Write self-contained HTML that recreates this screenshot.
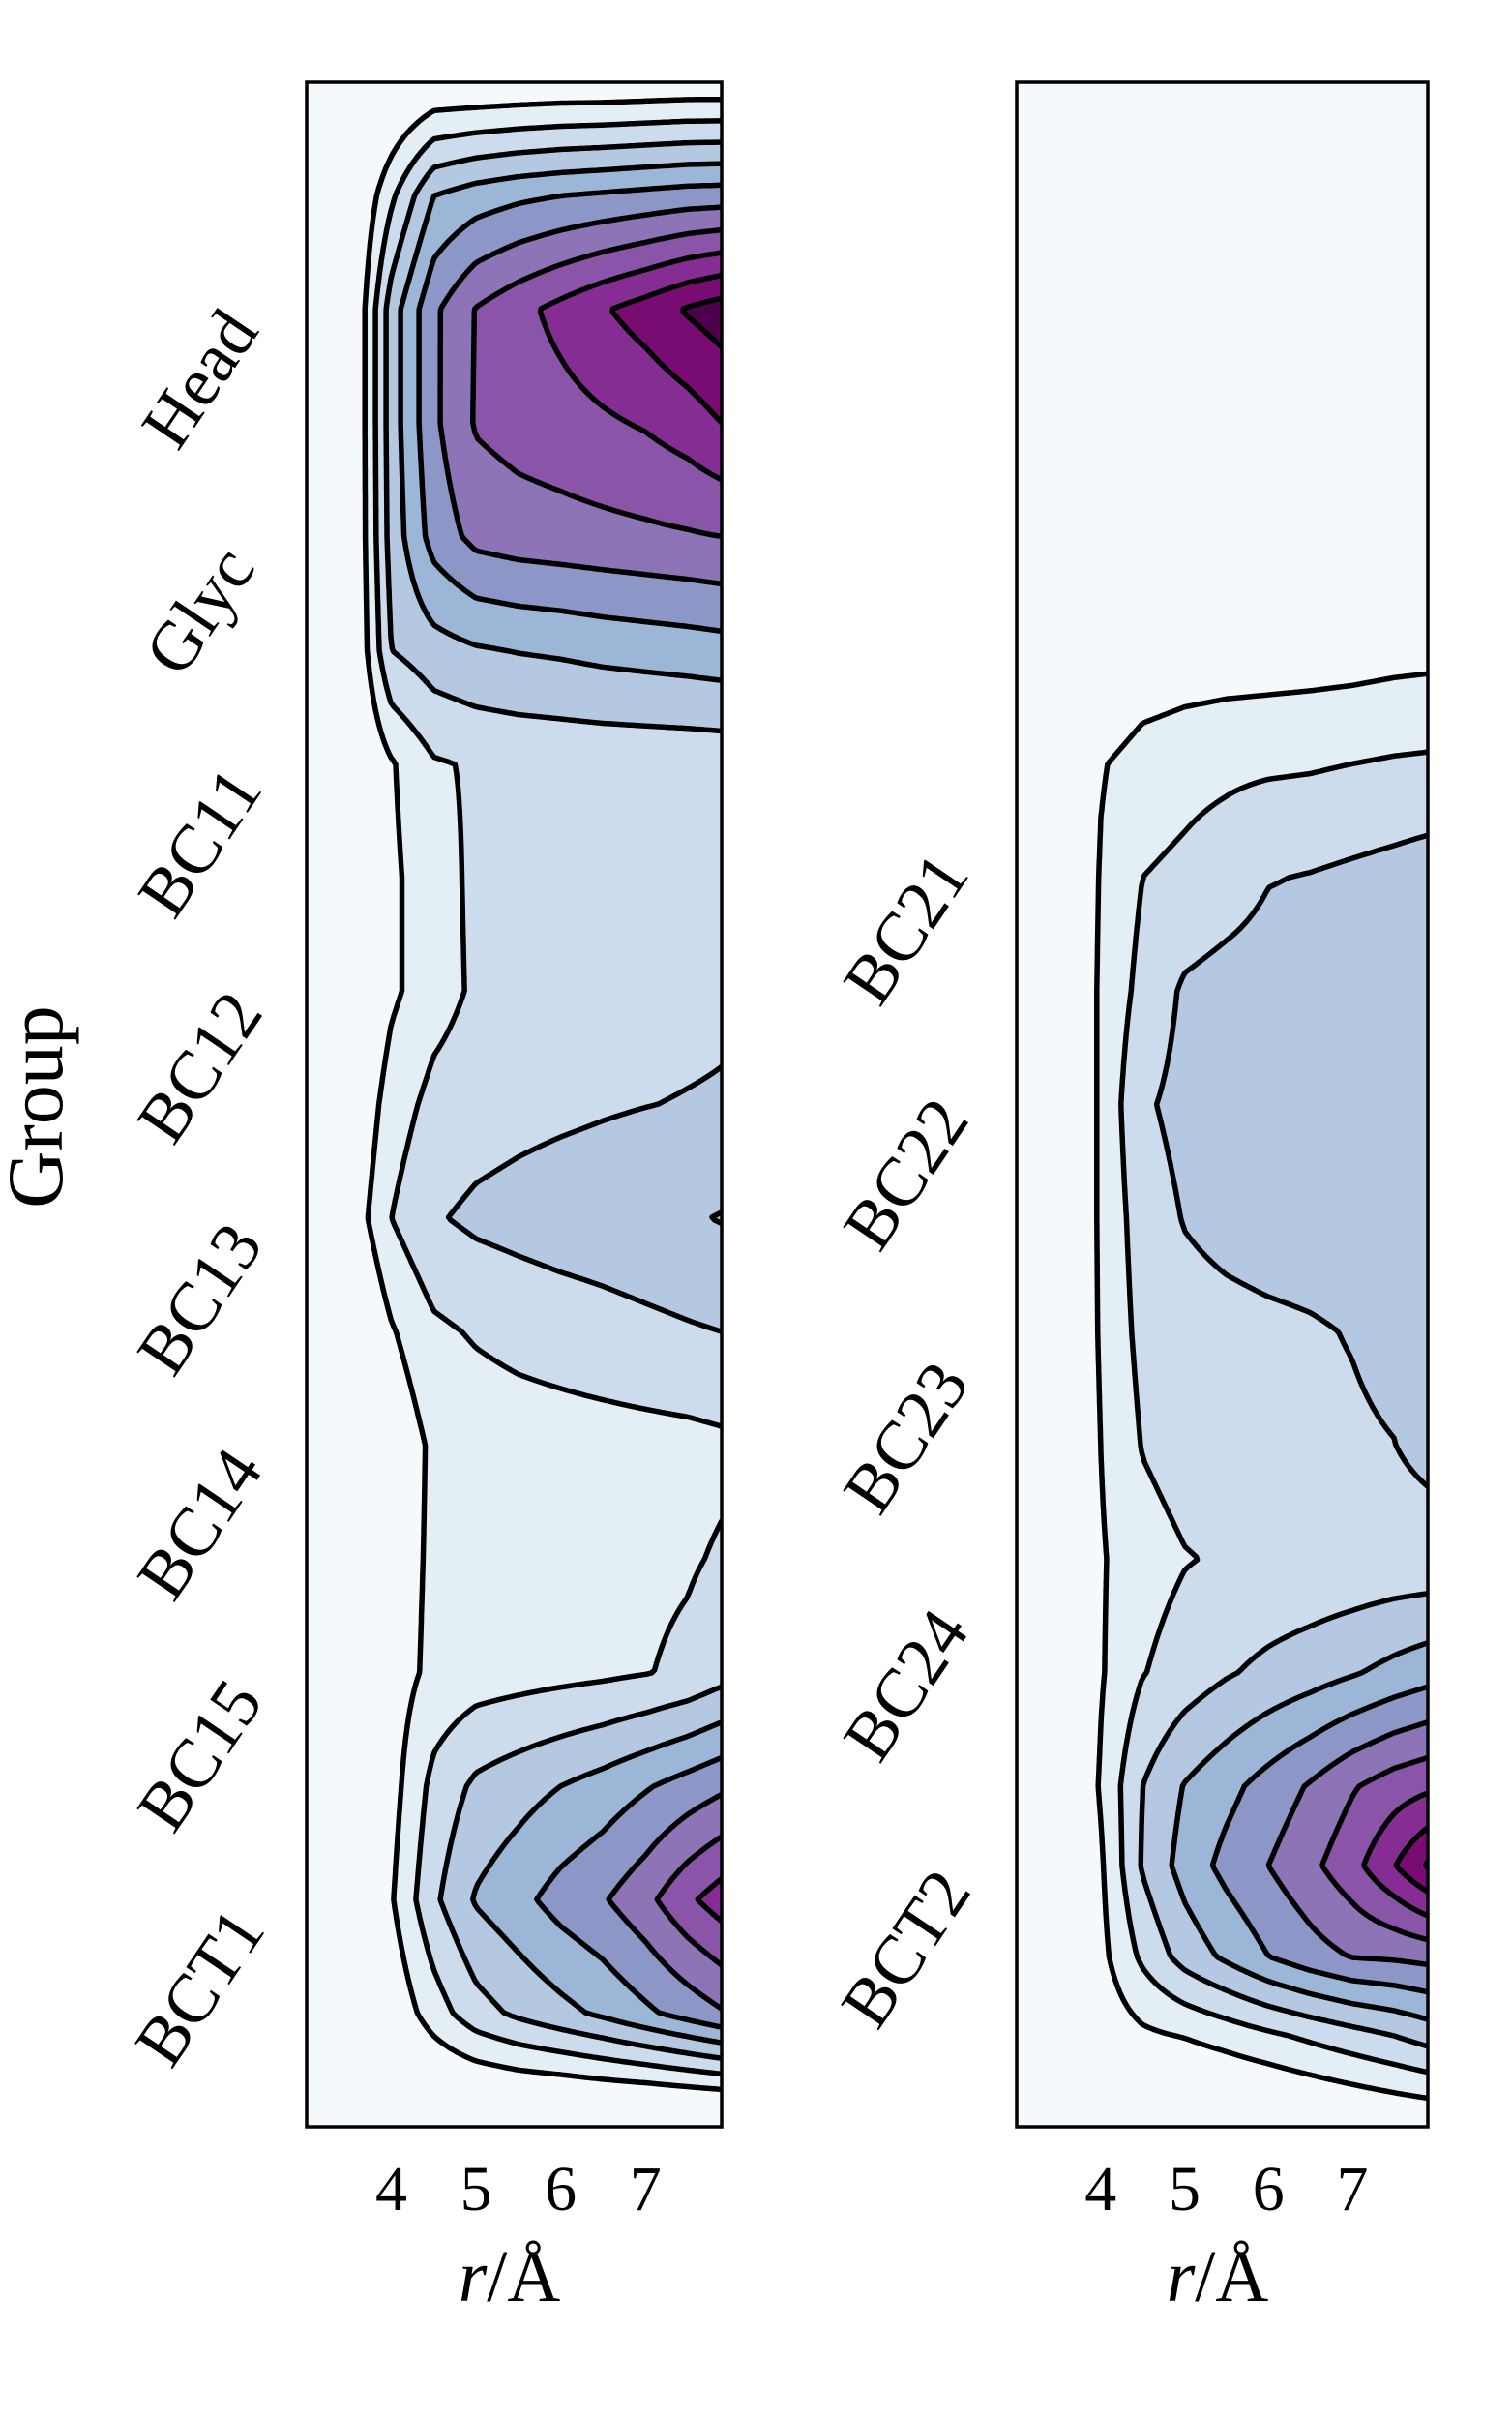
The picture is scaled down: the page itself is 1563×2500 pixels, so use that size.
<!DOCTYPE html>
<html><head><meta charset="utf-8">
<style>
html,body{margin:0;padding:0;background:#fff;}
#wrap{position:relative;width:1563px;height:2500px;overflow:hidden;background:#fff;}
canvas{position:absolute;}
svg{position:absolute;left:0;top:0;}
text{font-family:"Liberation Serif",serif;fill:#000;}
</style></head>
<body>
<div id="wrap">
<canvas id="cl"></canvas>
<canvas id="cr"></canvas>
<svg id="ov" width="1563" height="2500"></svg>
</div>
<script>
// ---- data ----
const rVals = [3.0,3.5,4.0,4.5,5.0,5.5,6.0,6.5,7.0,7.5,7.9];
const levels = [1,2,3,4,5,6,7,8,9,10];
const bandColors = ["#f5f9fb","#e3eef5","#ccdcec","#b4c9e1","#9bb6d7","#8c97c7","#8c74b7","#8a55a8","#852d93","#780c72","#4d004b"];
const xTicks = [4,5,6,7];
const leftLabels = ["Head","Glyc","BC11","BC12","BC13","BC14","BC15","BCT1"];
const leftLabelPos = [1.31,2.33,3.35,4.34,5.36,6.35,7.37,8.39];
const rightLabels = ["BC21","BC22","BC23","BC24","BCT2"];
const rightLabelPos = [3.73,4.81,5.97,7.06,8.22];
const leftRows = [0,0.5,1,1.5,2,2.5,3,3.5,4,4.5,5,5.5,6,6.5,7,7.5,8,8.5,9];
const leftZ = [
[-1,-1,-0.5,0,0,0.05,0.1,0.1,0.15,0.2,0.2],
[-1,-0.5,1.8,4.0,4.5,4.8,5.0,5.15,5.3,5.45,5.5],
[-1,-0.5,3.5,5.8,7.05,7.7,8.3,8.9,9.45,10.1,10.5],
[-1,-0.5,3.5,5.8,7.1,7.4,7.6,7.85,8.1,8.5,9.0],
[-1,-0.5,3.4,5.4,6.3,6.5,6.6,6.7,6.8,6.9,7.0],
[-1,-0.5,3.0,3.6,3.9,4.05,4.15,4.3,4.4,4.5,4.6],
[-1,-0.5,0.9,1.9,2.1,2.2,2.25,2.28,2.3,2.32,2.35],
[-1,-0.6,0.8,1.6,2.2,2.25,2.3,2.35,2.4,2.45,2.5],
[-1,-0.6,0.8,1.6,2.15,2.3,2.4,2.5,2.6,2.7,2.8],
[-1,-0.2,1.5,2.3,2.55,2.7,2.8,2.9,2.98,3.05,3.1],
[-1,0.2,2.0,2.9,3.2,3.35,3.5,3.6,3.75,3.9,4.05],
[-1,-0.6,0.9,1.8,2.1,2.3,2.45,2.6,2.75,2.9,3.0],
[-1,-0.6,0.2,1.2,1.4,1.5,1.55,1.6,1.65,1.7,1.8],
[-1,-0.6,0.4,1.2,1.4,1.5,1.6,1.7,1.8,1.9,2.1],
[-1,-0.6,0.5,1.25,1.5,1.6,1.7,1.8,1.95,2.2,2.6],
[-1,-0.6,0.6,2.3,3.2,3.6,4.0,4.4,4.9,5.4,5.8],
[-1,-0.6,0.9,2.8,4.1,4.7,5.4,5.9,6.7,7.8,8.5],
[-1,-0.8,0.2,1.5,2.6,3.2,3.7,4.2,4.8,5.4,5.9],
[-1,-1,-1,-1,-1.2,-1.2,-1.3,-1.3,-1.4,-1.4,-1.4]
];
const rightRows = [0,0.5,1,1.5,2,2.5,3,3.5,4,4.5,5,5.5,6,6.5,7,7.5,7.85,8.25,8.6,9];
const rightZ = [
[-1,-1,-1,-0.8,-0.6,-0.5,-0.4,-0.3,-0.3,-0.2,-0.2],
[-1,-1,-1,-0.8,-0.6,-0.5,-0.4,-0.3,-0.3,-0.2,-0.2],
[-1,-1,-1,-0.8,-0.6,-0.5,-0.4,-0.3,-0.3,-0.2,-0.2],
[-1,-1,-1,-0.8,-0.6,-0.5,-0.4,-0.3,-0.3,-0.2,-0.2],
[-1,-1,-1,-0.8,-0.6,-0.5,-0.4,-0.3,-0.3,-0.2,-0.2],
[-1,-1,-0.5,0.1,0.3,0.4,0.45,0.5,0.55,0.65,0.7],
[-1,-1,0.9,1.5,1.7,1.8,1.85,1.9,2.0,2.1,2.15],
[-1,-1,1.1,2.0,2.2,2.5,2.95,3.05,3.2,3.35,3.5],
[-1,-1,1.2,2.3,3.15,3.4,3.5,3.55,3.6,3.6,3.6],
[-1,-1,1.2,2.85,3.3,3.45,3.5,3.55,3.6,3.6,3.6],
[-1,-1,1.2,2.5,3.05,3.3,3.45,3.5,3.55,3.6,3.6],
[-1,-1,1.15,2.3,2.6,2.7,2.8,2.9,3.05,3.3,3.5],
[-1,-1,1.0,2.05,2.4,2.55,2.65,2.75,2.85,2.98,3.4],
[-1,-1,0.9,1.6,1.95,2.1,2.15,2.2,2.25,2.3,2.3],
[-1,-1,0.9,1.95,2.45,2.9,3.25,3.55,3.9,4.3,4.6],
[-1,-0.6,1.1,3.0,4.05,4.7,5.4,6.1,6.9,7.5,7.8],
[-1,-0.6,0.85,3.1,4.4,5.3,6.0,6.75,7.65,8.95,10.1],
[-1,-0.6,0.7,2.2,3.4,4.2,5.0,5.6,6.05,6.15,6.3],
[-1,-0.6,0.3,0.8,1.05,1.4,1.8,2.2,2.6,3.0,3.4],
[-1,-1,-1,-1,-1,-0.9,-0.8,-0.6,-0.4,-0.2,-0.1]
];

// ---- layout ----
const Y0 = 85, Y1 = 2198, UMAX = 9, RMIN = 3.0, RMAX = 7.9;
const panels = [
  {id:'cl', x0:317, x1:746, rows:leftRows, Z:leftZ, name:'left'},
  {id:'cr', x0:1051, x1:1476, rows:rightRows, Z:rightZ, name:'right'}
];
function xScale(p, r){ return p.x0 + (r - RMIN) / (RMAX - RMIN) * (p.x1 - p.x0); }
function yScale(u){ return Y0 + u / UMAX * (Y1 - Y0); }
function locate(arr, v){
  let i = 0;
  while (i < arr.length - 2 && v > arr[i+1]) i++;
  let t = (v - arr[i]) / (arr[i+1] - arr[i]);
  t = Math.max(0, Math.min(1, t));
  return [i, t];
}
function valueAt(p, r, u){
  const [i, tx] = locate(rVals, r);
  const [j, ty] = locate(p.rows, u);
  const Z = p.Z;
  const a = Z[j][i], b = Z[j][i+1], c = Z[j+1][i], d = Z[j+1][i+1];
  return (a*(1-tx) + b*tx)*(1-ty) + (c*(1-tx) + d*tx)*ty;
}
function band(v){
  let k = 0;
  for (const L of levels) if (v >= L) k++;
  return k;
}
function hex(c){ return [parseInt(c.slice(1,3),16),parseInt(c.slice(3,5),16),parseInt(c.slice(5,7),16)]; }
const rgb = bandColors.map(hex);

const NS = 'http://www.w3.org/2000/svg';
const svg = document.getElementById('ov');
function mk(tag, attrs){
  const e = document.createElementNS(NS, tag);
  for (const k in attrs) e.setAttribute(k, attrs[k]);
  return e;
}

panels.forEach((p, pi) => {
  const W = p.x1 - p.x0, H = Y1 - Y0;
  const cv = document.getElementById(p.id);
  cv.width = W; cv.height = H;
  cv.style.left = p.x0 + 'px'; cv.style.top = Y0 + 'px';
  const ctx = cv.getContext('2d');
  const img = ctx.createImageData(W, H);
  const rs = [], us = [];
  for (let x = 0; x < W; x++) rs.push(RMIN + (x + 0.5) / W * (RMAX - RMIN));
  for (let y = 0; y < H; y++) us.push((y + 0.5) / H * UMAX);
  for (let y = 0; y < H; y++){
    for (let x = 0; x < W; x++){
      const c = rgb[band(valueAt(p, rs[x], us[y]))];
      const o = (y*W + x)*4;
      img.data[o] = c[0]; img.data[o+1] = c[1]; img.data[o+2] = c[2]; img.data[o+3] = 255;
    }
  }
  ctx.putImageData(img, 0, 0);

  const clipId = 'clip-' + p.name;
  const cp = mk('clipPath', {id: clipId});
  cp.appendChild(mk('rect', {x: p.x0, y: Y0, width: W, height: H}));
  svg.appendChild(cp);
  const g = mk('g', {'clip-path': 'url(#' + clipId + ')'});
  
  
  svg.appendChild(g);
  const s = 3;
  const nx = Math.ceil(W / s) + 1, ny = Math.ceil(H / s) + 1;
  const F = [];
  for (let j = 0; j < ny; j++){
    const row = [];
    const u = Math.min(H, j*s) / H * UMAX;
    for (let i = 0; i < nx; i++){
      const r = RMIN + Math.min(W, i*s) / W * (RMAX - RMIN);
      row.push(valueAt(p, r, u));
    }
    F.push(row);
  }
  levels.forEach(L => {
    let d = '';
    for (let j = 0; j < ny - 1; j++){
      const yA = Y0 + Math.min(H, j*s), yB = Y0 + Math.min(H, (j+1)*s);
      for (let i = 0; i < nx - 1; i++){
        const xA = p.x0 + Math.min(W, i*s), xB = p.x0 + Math.min(W, (i+1)*s);
        const a = F[j][i], b = F[j][i+1], c = F[j+1][i+1], e = F[j+1][i];
        const pts = [];
        if ((a >= L) !== (b >= L)){ const t = (L - a)/(b - a); pts.push([xA + t*(xB-xA), yA]); }
        if ((b >= L) !== (c >= L)){ const t = (L - b)/(c - b); pts.push([xB, yA + t*(yB-yA)]); }
        if ((e >= L) !== (c >= L)){ const t = (L - e)/(c - e); pts.push([xA + t*(xB-xA), yB]); }
        if ((a >= L) !== (e >= L)){ const t = (L - a)/(e - a); pts.push([xA, yA + t*(yB-yA)]); }
        if (pts.length >= 2){
          d += 'M' + pts[0][0].toFixed(1) + ' ' + pts[0][1].toFixed(1) + 'L' + pts[1][0].toFixed(1) + ' ' + pts[1][1].toFixed(1);
          if (pts.length === 4) d += 'M' + pts[2][0].toFixed(1) + ' ' + pts[2][1].toFixed(1) + 'L' + pts[3][0].toFixed(1) + ' ' + pts[3][1].toFixed(1);
        }
      }
    }
    if (d){
      const path = mk('path', {d: d, fill: 'none', stroke: '#000', 'stroke-width': 5.5, 'stroke-linecap': 'round', 'stroke-linejoin': 'round'});
      
      
      g.appendChild(path);
    }
  });

  const fr = mk('rect', {x: p.x0, y: Y0, width: W, height: H, fill: 'none', stroke: '#000', 'stroke-width': 3.5});
  
  
  svg.appendChild(fr);

  xTicks.forEach(tv => {
    const t = mk('text', {x: xScale(p, tv), y: 2284, 'font-size': 66, 'text-anchor': 'middle'});
    t.textContent = tv;
    
    
    svg.appendChild(t);
  });
  const xt = mk('text', {x: (p.x0 + p.x1)/2 - 5, y: 2378, 'font-size': 76, 'text-anchor': 'middle'});
  xt.innerHTML = '<tspan font-style="italic">r</tspan>/Å';
  
  
  svg.appendChild(xt);

  const labs = pi === 0 ? leftLabels : rightLabels;
  const pos = pi === 0 ? leftLabelPos : rightLabelPos;
  const cx = pi === 0 ? 208 : 938;
  labs.forEach((lab, k) => {
    const cy = yScale(pos[k]);
    const t = mk('text', {x: cx, y: cy + 22, 'font-size': 72, 'text-anchor': 'middle', transform: 'rotate(-56 ' + cx + ' ' + cy + ')'});
    t.textContent = lab;
    
    
    svg.appendChild(t);
  });
});

const gt = mk('text', {x: 36, y: 1144, 'font-size': 82, 'text-anchor': 'middle', transform: 'rotate(-90 36 1144) translate(0 28)'});
gt.textContent = 'Group';


svg.appendChild(gt);
</script>
</body></html>
